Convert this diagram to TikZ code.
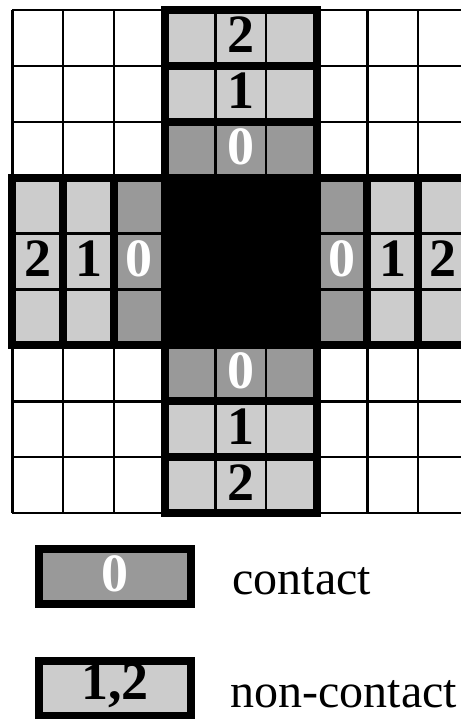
\documentclass[tikz,border=0pt]{standalone}
\usepackage{fontspec}
\setmainfont{Liberation Serif}
\usepackage{tikz}
\definecolor{contactgray}{RGB}{153,153,153}
\definecolor{freegray}{RGB}{204,204,204}
\def\cw{25.35pt} \def\ch{27.95pt}
\tikzset{
  cell/.style    ={rectangle, draw=black, line width=4pt, inner sep=0pt,
                   font=\bfseries\fontsize{27}{29}\selectfont},
  vcell/.style   ={cell, minimum width=3*\cw, minimum height=\ch},
  hcell/.style   ={cell, minimum width=\cw, minimum height=3*\ch},
  contact/.style ={fill=contactgray, text=white},
  free/.style    ={fill=freegray, text=black},
  digit/.style   ={yshift=1.5pt},
  gridline/.style={line width=1.3pt},
  legtext/.style ={font=\fontsize{24}{26}\selectfont, anchor=base west, inner sep=0pt},
}

\begin{document}
\begin{tikzpicture}[x=\cw, y=-\ch]
    \useasboundingbox (-0.2465,-0.179) rectangle (8.846,12.684);

    % vertical strip (above and below)
    \foreach \n/\s in {2/free, 1/free, 0/contact}{
      \node[vcell, \s] (up\n) at (4.5,2.5-\n) {};
      \node[vcell, \s] (dn\n) at (4.5,6.5+\n) {};
    }
    % horizontal band (left and right)
    \foreach \n/\s in {2/free, 1/free, 0/contact}{
      \node[hcell, \s] (lf\n) at (2.5-\n,4.5) {};
      \node[hcell, \s] (rt\n) at (6.5+\n,4.5) {};
    }
    \node[rectangle, fill=black, minimum width=3*\cw, minimum height=3*\ch,
          inner sep=0pt] (centre) at (4.5,4.5) {};

    % grid lines
    \foreach \i in {0,...,9}{
      \draw[gridline] (\i,0) -- (\i,9);
      \draw[gridline] (0,\i) -- (9,\i);
    }

    % labels
    \foreach \n/\c in {2/black, 1/black, 0/white}{
      \node[cell, draw=none, digit, text=\c] (uplbl\n) at (up\n) {\n};
      \node[cell, draw=none, digit, text=\c] (dnlbl\n) at (dn\n) {\n};
      \node[cell, draw=none, digit, text=\c] (lflbl\n) at (lf\n) {\n};
      \node[cell, draw=none, digit, text=\c] (rtlbl\n) at (rt\n) {\n};
    }

    % legend
    \node[cell, contact, minimum width=76pt, minimum height=27.5pt] (leg0)
        at (2.02,10.135) {};
    \node[cell, draw=none, digit, text=white] (leg0lbl) at (leg0) {0};
    \node[legtext] (txtcontact) at (4.33,10.465) {contact};

    \node[cell, free, minimum width=76pt, minimum height=27.5pt] (leg12)
        at (2.02,12.14) {};
    \node[cell, draw=none, digit] (leg12lbl) at (leg12) {1,2};
    \node[legtext] (txtfree) at (4.29,12.47) {non-contact};
\end{tikzpicture}
\end{document}
